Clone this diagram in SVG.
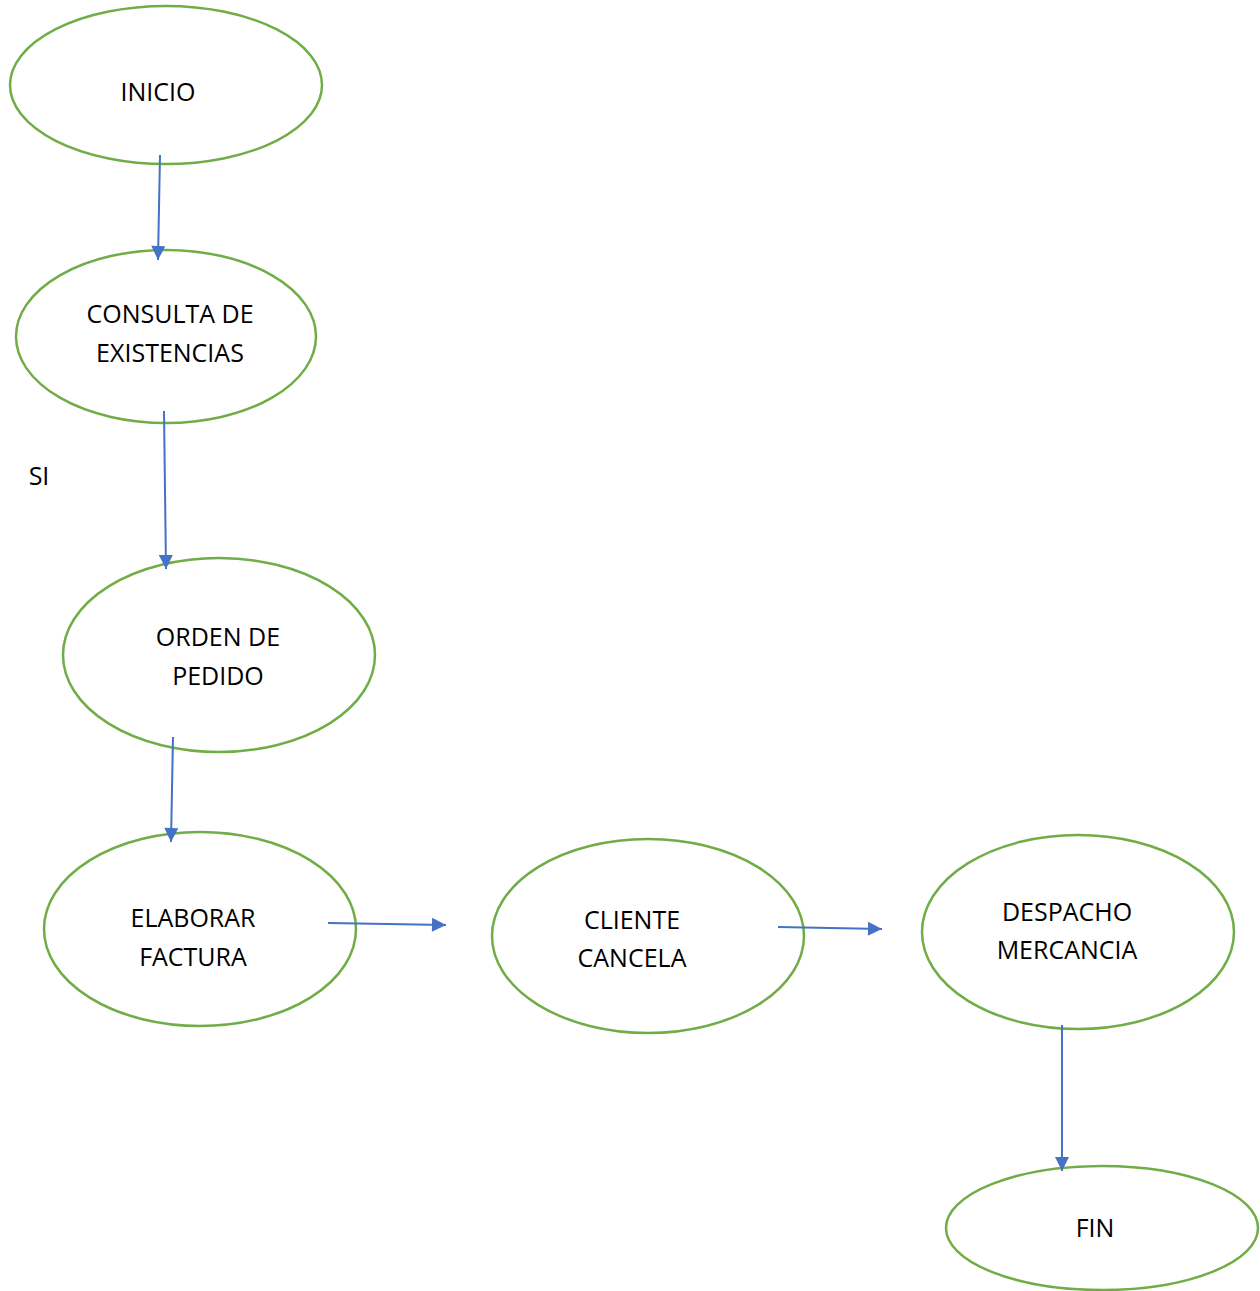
<svg xmlns="http://www.w3.org/2000/svg" width="1260" height="1291" viewBox="0 0 1260 1291">
<defs>
<style>
.n{fill:#fff;stroke:#70AD47;stroke-width:2.5}
.c{stroke:#4472C4;stroke-width:2;fill:none}
text{font-family:"Open Sans","Noto Sans","Liberation Sans",sans-serif;font-size:25px;fill:#000;text-anchor:middle}
</style>
<marker id="ah" viewBox="0 0 10 10" refX="10" refY="5" markerWidth="8" markerHeight="7" markerUnits="strokeWidth" orient="auto">
<path d="M0,0 L10,5 L0,10 Z" fill="#4472C4"/>
</marker>
</defs>
<rect width="1260" height="1291" fill="#fff"/>
<g id="inicio"><ellipse class="n" cx="166" cy="85" rx="156" ry="79"/><text x="158" y="101">INICIO</text></g>
<g id="consulta"><ellipse class="n" cx="166" cy="336.5" rx="150" ry="86.5"/><text x="170" y="323">CONSULTA DE</text><text x="170" y="362">EXISTENCIAS</text></g>
<g id="orden"><ellipse class="n" cx="219" cy="655" rx="156" ry="97"/><text x="218" y="646">ORDEN DE</text><text x="218" y="685">PEDIDO</text></g>
<g id="elaborar"><ellipse class="n" cx="200" cy="929" rx="156" ry="97"/><text x="193" y="927">ELABORAR</text><text x="193" y="966">FACTURA</text></g>
<g id="cliente"><ellipse class="n" cx="648" cy="936" rx="156" ry="97"/><text x="632" y="929">CLIENTE</text><text x="632" y="967">CANCELA</text></g>
<g id="despacho"><ellipse class="n" cx="1078" cy="932" rx="156" ry="97"/><text x="1067" y="921">DESPACHO</text><text x="1067" y="959">MERCANCIA</text></g>
<g id="fin"><ellipse class="n" cx="1102" cy="1228" rx="156" ry="62"/><text x="1095" y="1237">FIN</text></g>
<g id="label-si"><text x="39" y="485">SI</text></g>
<g id="connectors">
<line class="c" x1="160" y1="155" x2="158" y2="260" marker-end="url(#ah)"/>
<line class="c" x1="164" y1="411" x2="166" y2="569" marker-end="url(#ah)"/>
<line class="c" x1="173" y1="737" x2="171" y2="842" marker-end="url(#ah)"/>
<line class="c" x1="328" y1="923" x2="446" y2="925" marker-end="url(#ah)"/>
<line class="c" x1="778" y1="927" x2="882" y2="929" marker-end="url(#ah)"/>
<line class="c" x1="1062" y1="1025" x2="1062" y2="1171" marker-end="url(#ah)"/>
</g>
</svg>
